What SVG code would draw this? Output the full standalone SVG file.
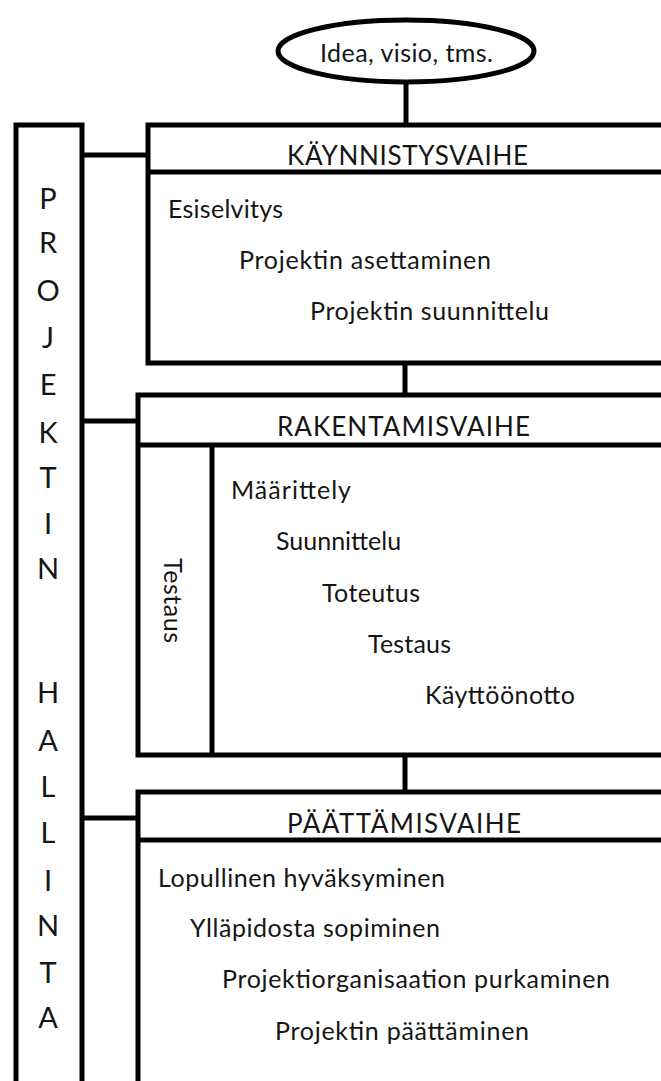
<svg xmlns="http://www.w3.org/2000/svg" width="661" height="1081" viewBox="0 0 661 1081">
<style>
.ln{stroke:#000;stroke-width:5;fill:none}
.bx{stroke:#000;stroke-width:5;fill:#fff}
text{font-family:Lato,"Open Sans",sans-serif;fill:#151515}
.t{font-size:25px}
.h{font-size:26px}
.v{font-size:29px;text-anchor:middle}
</style>
<rect width="661" height="1081" fill="#fff"/>
<g id="connectors">
<line class="ln" x1="406" y1="82" x2="406" y2="125"/>
<line class="ln" x1="405" y1="363" x2="405" y2="395"/>
<line class="ln" x1="405" y1="755" x2="405" y2="792"/>
<line class="ln" x1="82" y1="155" x2="148" y2="155"/>
<line class="ln" x1="82" y1="421" x2="138" y2="421"/>
<line class="ln" x1="82" y1="818" x2="138" y2="818"/>
</g>
<g id="idea">
<ellipse class="bx" cx="406" cy="51" rx="128" ry="31"/>
<text class="t" x="320" y="62" textLength="173">Idea, visio, tms.</text>
</g>
<g id="projektinhallinta">
<rect class="bx" x="16" y="125" width="66" height="970"/>
<text class="v" x="48" y="209">P</text>
<text class="v" x="48" y="253">R</text>
<text class="v" x="48" y="301">O</text>
<text class="v" x="48" y="348">J</text>
<text class="v" x="48" y="395">E</text>
<text class="v" x="48" y="443">K</text>
<text class="v" x="48" y="488">T</text>
<text class="v" x="48" y="534">I</text>
<text class="v" x="48" y="579">N</text>
<text class="v" x="48" y="703">H</text>
<text class="v" x="48" y="751">A</text>
<text class="v" x="48" y="797">L</text>
<text class="v" x="48" y="843">L</text>
<text class="v" x="48" y="891">I</text>
<text class="v" x="48" y="936">N</text>
<text class="v" x="48" y="983">T</text>
<text class="v" x="48" y="1028">A</text>
</g>
<g id="kaynnistysvaihe">
<rect class="bx" x="148" y="125" width="530" height="238"/>
<line class="ln" x1="148" y1="172" x2="661" y2="172"/>
<text class="h" x="287" y="165" textLength="241">KÄYNNISTYSVAIHE</text>
<text class="t" x="168" y="218" textLength="115">Esiselvitys</text>
<text class="t" x="239" y="269" textLength="252">Projektin asettaminen</text>
<text class="t" x="310" y="320" textLength="239">Projektin suunnittelu</text>
</g>
<g id="rakentamisvaihe">
<rect class="bx" x="138" y="395" width="540" height="360"/>
<line class="ln" x1="138" y1="445" x2="661" y2="445"/>
<line class="ln" x1="212" y1="445" x2="212" y2="755"/>
<text class="h" x="277" y="436" textLength="253">RAKENTAMISVAIHE</text>
<text class="t" transform="translate(164 558) rotate(90)" textLength="85">Testaus</text>
<text class="t" x="231" y="499" textLength="120">Määrittely</text>
<text class="t" x="276" y="550">Suunnittelu</text>
<text class="t" x="322" y="602" textLength="98">Toteutus</text>
<text class="t" x="368" y="653" textLength="83">Testaus</text>
<text class="t" x="425" y="704" textLength="150">Käyttöönotto</text>
</g>
<g id="paattamisvaihe">
<rect class="bx" x="138" y="792" width="540" height="310"/>
<line class="ln" x1="138" y1="840" x2="661" y2="840"/>
<text class="h" x="287" y="833" textLength="234">PÄÄTTÄMISVAIHE</text>
<text class="t" x="158" y="887" textLength="287">Lopullinen hyväksyminen</text>
<text class="t" x="190" y="937" textLength="250">Ylläpidosta sopiminen</text>
<text class="t" x="222" y="988" textLength="388">Projektiorganisaation purkaminen</text>
<text class="t" x="275" y="1040" textLength="254">Projektin päättäminen</text>
</g>
</svg>
